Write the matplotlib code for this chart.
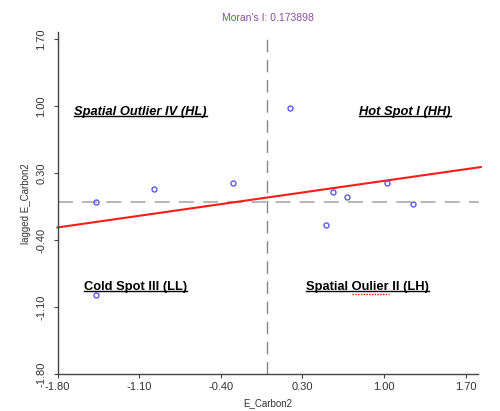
import numpy as np
import matplotlib
matplotlib.use('Agg')
import matplotlib.pyplot as plt
from matplotlib.lines import Line2D

plt.rcParams['font.family'] = ['Liberation Sans', 'DejaVu Sans']

e_carbon = [-1.472, -0.975, -0.292, 0.194, 0.565, 0.680, 1.023, 1.252, 0.503, -1.472]
lagged = [0.002, 0.130, 0.193, 0.979, 0.102, 0.046, 0.193, -0.027, -0.240, -0.971]
morans_i = 0.173898
intercept = 0.045
ticks = [-1.80, -1.10, -0.40, 0.30, 1.00, 1.70]

quad_labels = ['Spatial Outlier IV (HL)', 'Hot Spot I (HH)', 'Cold Spot III (LL)', 'Spatial Oulier II (LH)']
quad_x = [-1.09, 1.18, -1.13, 0.86]
quad_y = [0.94, 0.94, -0.89, -0.89]
quad_italic = [True, True, False, False]
qsize = 9.3

fig = plt.figure(figsize=(5.0, 4.11), dpi=100)
ax = fig.add_axes([0.115, 0.090, 0.842, 0.831])

ax.set_xlim(-1.80, 1.81)
ax.set_ylim(-1.80, 1.77)

for s in ['top', 'right']:
	ax.spines[s].set_visible(False)
for s in ['left', 'bottom']:
	ax.spines[s].set_color('#444444')
	ax.spines[s].set_linewidth(1.0)

ax.axhline(0, color='#aaaaaa', lw=1.2, dashes=(9, 5.5), zorder=1)
ax.axvline(0, color='#888888', lw=1.0, dashes=(9, 5.5), zorder=1)

xs = np.array([-1.80, 1.83])
ax.plot(xs, intercept + morans_i * xs, color='#ff1a1a', lw=1.5, zorder=2, clip_on=False)

ax.plot(e_carbon, lagged, 'o', mfc='none', mec='#5a5aee', ms=3.6, mew=1.0, zorder=3)

ax.set_xticks(ticks)
ax.set_yticks(ticks)
ax.set_xticklabels(['%.2f' % t for t in ticks])
ax.set_yticklabels(['%.2f' % t for t in ticks], rotation=90, va='center')
ax.tick_params(length=3, width=0.8, color='#444444', labelsize=8, labelcolor='#333333')
ax.tick_params(axis='y', pad=5)
ax.tick_params(axis='x', pad=3)

ax.set_xlabel('E_Carbon2', fontsize=7, color='#333333', labelpad=4)
ax.set_ylabel('lagged E_Carbon2', fontsize=7, color='#333333', labelpad=4)
ax.set_title("Moran's I: 0.173898", fontsize=7.5, color='#8e4aa0', pad=8)

texts = []
for lab, x, y, it in zip(quad_labels, quad_x, quad_y, quad_italic):
	t = ax.text(x, y, lab, ha='center', va='center', fontsize=qsize, fontweight='bold',
		style='italic' if it else 'normal', color='black', zorder=4)
	texts.append(t)

# underline the quadrant labels
fig.canvas.draw()
r = fig.canvas.get_renderer()
inv = fig.transFigure.inverted()
for t in texts:
	bb = t.get_window_extent(r)
	(x0, y0), (x1, y1) = inv.transform([[bb.x0, bb.y0 + 1.5], [bb.x1, bb.y0 + 1.5]])
	fig.add_artist(Line2D([x0, x1], [y0, y1], color='black', lw=1.0))

# red spell-check squiggle under "Oulier"
t = texts[3]
bb = t.get_window_extent(r)
pre = ax.text(0, 0, 'Spatial ', fontsize=qsize, fontweight='bold')
word = ax.text(0, 0, 'Spatial Oulier', fontsize=qsize, fontweight='bold')
w0 = pre.get_window_extent(r).width
w1 = word.get_window_extent(r).width
pre.remove()
word.remove()
(x0, y0), (x1, y1) = inv.transform([[bb.x0 + w0, bb.y0 - 1], [bb.x0 + w1, bb.y0 - 1]])
fig.add_artist(Line2D([x0, x1], [y0, y1], color='red', lw=1.0, ls=(0, (1, 1))))

fig.savefig('out.png', dpi=100)
